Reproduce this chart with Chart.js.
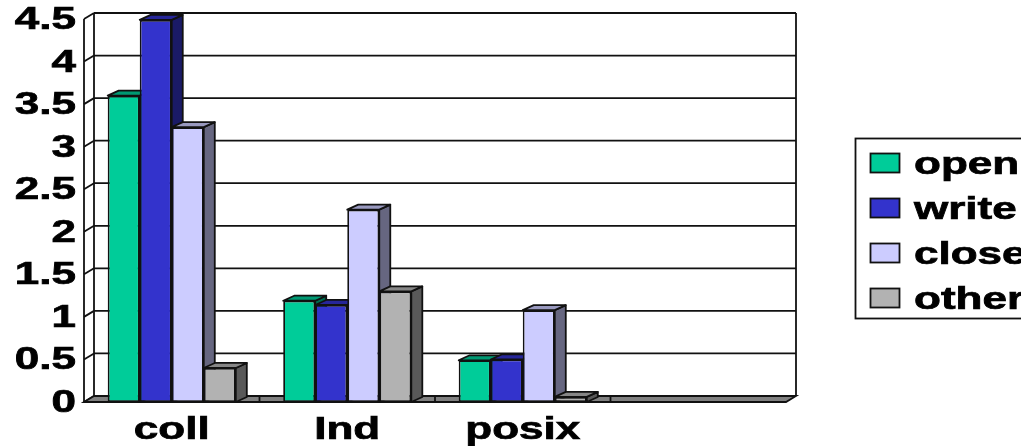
<!DOCTYPE html>
<html>
<head>
<meta charset="utf-8">
<style>
	html, body { margin: 0; padding: 0; background: #fff; overflow: hidden; }
	canvas { display: block; }
</style>
<script src="https://cdn.jsdelivr.net/npm/chart.js"></script>
</head>
<body>
<canvas id="chart" width="1021" height="446"></canvas>
<script>
var categories = ['coll', 'Ind', 'posix', ''];
var tickValues = [0, 0.5, 1, 1.5, 2, 2.5, 3, 3.5, 4, 4.5];
var seriesNames = ['open', 'write', 'close', 'other'];
var openValues = [3.6, 1.19, 0.49, null];
var writeValues = [4.49, 1.14, 0.5, null];
var closeValues = [3.23, 2.26, 1.08, null];
var otherValues = [0.4, 1.3, 0.06, null];

var seriesValues = [openValues, writeValues, closeValues, otherValues];
// front, side and top face of each series
var faceColors = [
	['#00cc99', '#006b50', '#009973'],
	['#3333cc', '#1a1a66', '#262699'],
	['#ccccff', '#666680', '#9999bf'],
	['#b2b2b2', '#595959', '#868686']
];

var WALL_DX = 10, WALL_DY = 6; // depth of the back wall
var BAR_DX = 11, BAR_DY = 5;   // depth of a bar
var INK = '#111';
var LINE = 1.8;
var FONT = 'bold 31px "Liberation Sans"';
var TEXT_STRETCH = 1.42;

// the labels are wider than the font, so they go through a horizontal scale
function wideText(ctx, text, x, y, align){
	ctx.save();
	ctx.translate(x, y);
	ctx.scale(TEXT_STRETCH, 1);
	ctx.font = FONT;
	ctx.fillStyle = '#000';
	ctx.strokeStyle = '#000';
	ctx.lineWidth = 0.7;
	ctx.textAlign = align;
	ctx.textBaseline = 'alphabetic';
	ctx.fillText(text, 0, 0);
	ctx.strokeText(text, 0, 0);
	ctx.restore();
}

function poly(ctx, points, fill){
	ctx.beginPath();
	ctx.moveTo(points[0][0], points[0][1]);
	for (var i = 1; i < points.length; i++)
		ctx.lineTo(points[i][0], points[i][1]);
	ctx.closePath();
	if (fill){
		ctx.fillStyle = fill;
		ctx.fill();
	}
	ctx.stroke();
}

function line(ctx, x1, y1, x2, y2){
	ctx.beginPath();
	ctx.moveTo(x1, y1);
	ctx.lineTo(x2, y2);
	ctx.stroke();
}

// back wall, left wall, grid and floor
var wallPlugin = {
	id: 'wall',
	beforeDatasetsDraw: function(chart){
		var ctx = chart.ctx, a = chart.chartArea, y = chart.scales.y;
		var i, py;
		ctx.save();
		ctx.strokeStyle = INK;
		ctx.lineWidth = LINE;
		for (i = 0; i < y.ticks.length; i++){
			py = y.getPixelForValue(y.ticks[i].value);
			line(ctx, a.left, py, a.left + WALL_DX, py - WALL_DY);
			if (y.ticks[i].value > 0)
				line(ctx, a.left + WALL_DX, py - WALL_DY, a.right + WALL_DX, py - WALL_DY);
		}
		line(ctx, a.left, a.top, a.left, a.bottom);
		line(ctx, a.left + WALL_DX, a.top - WALL_DY, a.left + WALL_DX, a.bottom - WALL_DY);
		line(ctx, a.right + WALL_DX, a.top - WALL_DY, a.right + WALL_DX, a.bottom - WALL_DY);
		poly(ctx, [
			[a.left, a.bottom],
			[a.right, a.bottom],
			[a.right + WALL_DX, a.bottom - WALL_DY],
			[a.left + WALL_DX, a.bottom - WALL_DY]
		], '#808080');
		var step = (a.right - a.left) / categories.length;
		for (i = 1; i < categories.length; i++)
			line(ctx, a.left + step * i, a.bottom - WALL_DY, a.left + step * i, a.bottom);
		ctx.restore();
	}
};

// draws the bars left to right, each with its side and top face
var boxPlugin = {
	id: 'boxes',
	beforeDatasetsDraw: function(chart){
		var ctx = chart.ctx;
		ctx.save();
		ctx.strokeStyle = INK;
		ctx.lineWidth = LINE;
		ctx.lineJoin = 'round';
		for (var c = 0; c < categories.length; c++){
			for (var d = 0; d < chart.data.datasets.length; d++){
				var bar = chart.getDatasetMeta(d).data[c];
				if (!bar || chart.data.datasets[d].data[c] === null)
					continue;
				var l = bar.x - bar.width / 2, r = bar.x + bar.width / 2;
				poly(ctx, [
					[r, bar.y],
					[r + BAR_DX, bar.y - BAR_DY],
					[r + BAR_DX, bar.base - BAR_DY],
					[r, bar.base]
				], faceColors[d][1]);
				poly(ctx, [
					[l, bar.y],
					[l + BAR_DX, bar.y - BAR_DY],
					[r + BAR_DX, bar.y - BAR_DY],
					[r, bar.y]
				], faceColors[d][2]);
				bar.draw(ctx);
			}
		}
		ctx.restore();
		return false; // the library would draw them last series first
	}
};

var labelPlugin = {
	id: 'labels',
	afterDraw: function(chart){
		var ctx = chart.ctx, y = chart.scales.y, x = chart.scales.x;
		var i;
		for (i = 0; i < y.ticks.length; i++)
			wideText(ctx, y.ticks[i].label, 76, y.getPixelForValue(y.ticks[i].value) + 10, 'right');
		for (i = 0; i < categories.length; i++)
			wideText(ctx, categories[i], x.getPixelForValue(i), 439, 'center');

		// legend, its box runs off the right edge of the page
		ctx.save();
		ctx.strokeStyle = INK;
		ctx.lineWidth = LINE;
		ctx.strokeRect(855.5, 138.5, 200, 180);
		for (i = 0; i < seriesNames.length; i++){
			var top = 153 + i * 45;
			ctx.fillStyle = faceColors[i][0];
			ctx.fillRect(870.5, top + 0.5, 29, 19);
			ctx.strokeRect(870.5, top + 0.5, 29, 19);
			wideText(ctx, chart.data.datasets[i].label, 914, top + 21, 'left');
		}
		ctx.restore();
	}
};

var datasets = [];
for (var i = 0; i < seriesNames.length; i++){
	datasets.push({
		label: seriesNames[i],
		data: seriesValues[i],
		backgroundColor: faceColors[i][0],
		borderColor: INK,
		borderWidth: LINE,
		borderSkipped: false,
		barPercentage: 1,
		categoryPercentage: 0.73
	});
}

new Chart(document.getElementById('chart'), {
	type: 'bar',
	data: { labels: categories, datasets: datasets },
	options: {
		responsive: false,
		animation: false,
		layout: { padding: { left: 84, right: 235, top: 19, bottom: 44 } },
		plugins: { legend: { display: false }, tooltip: { enabled: false } },
		scales: {
			x: {
				afterFit: function(scale){ scale.height = 0; },
				grid: { display: false },
				border: { display: false },
				ticks: { display: false }
			},
			y: {
				min: 0,
				max: 4.5,
				afterBuildTicks: function(scale){
					scale.ticks = tickValues.map(function(v){ return { value: v }; });
				},
				afterFit: function(scale){ scale.width = 0; },
				grid: { display: false },
				border: { display: false },
				ticks: {
					display: false,
					callback: function(v){ return String(v); }
				}
			}
		}
	},
	plugins: [wallPlugin, boxPlugin, labelPlugin]
});
</script>
</body>
</html>
